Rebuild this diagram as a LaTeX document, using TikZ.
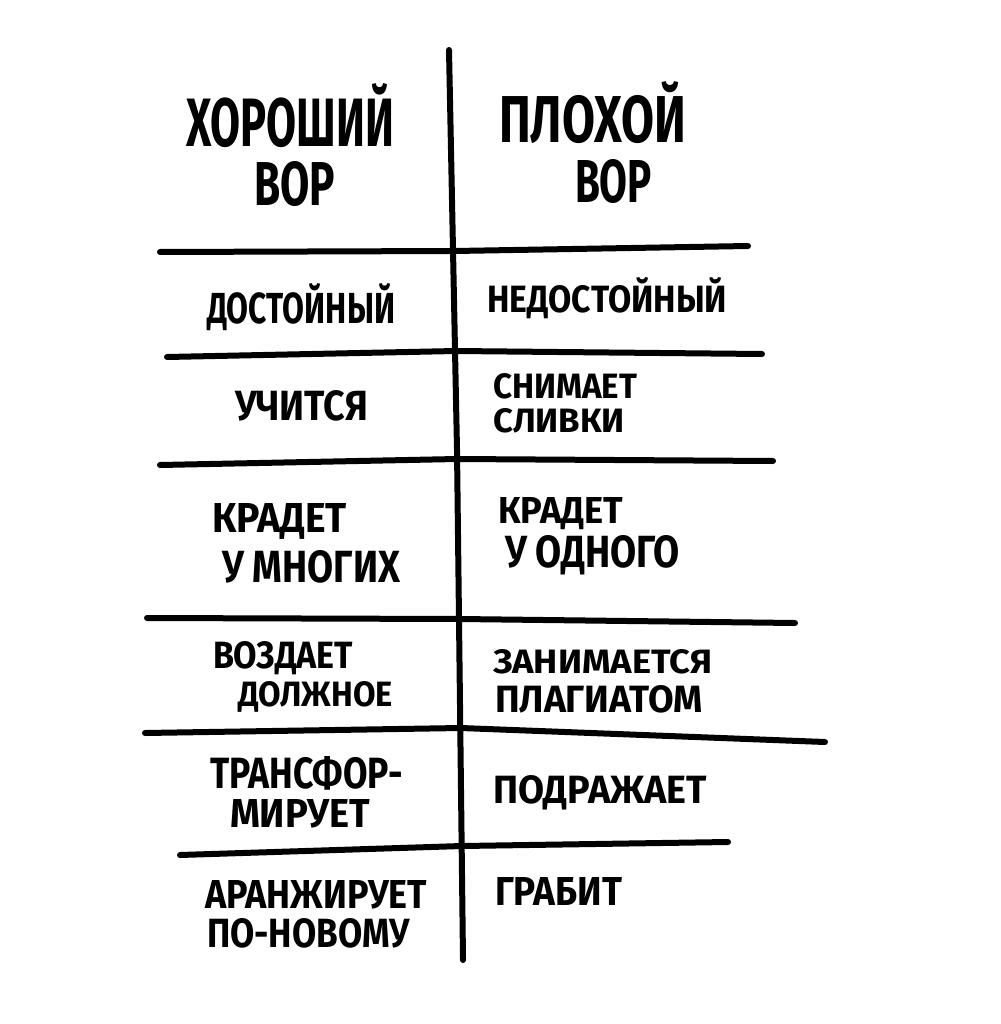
\documentclass[tikz,border=0pt]{standalone}
\usepackage{fontspec}
\setmainfont{Fira Sans}
\usepackage{graphicx}
\newcommand{\hw}[3]{\resizebox{#1pt}{#2pt}{\bfseries #3}}
\begin{document}
\begin{tikzpicture}[x=1pt,y=-1pt,
  rule/.style={line width=6pt,line cap=round,line join=round,black},
  txt/.style={inner sep=0pt,outer sep=0pt,anchor=base west}]
\useasboundingbox[fill=white] (0,0) rectangle (1000,1024);
% vertical rule
\coordinate (vt) at (449,50);
\coordinate (vm) at (457,450);
\coordinate (vb) at (463,960);
\draw[rule] (vt) -- (vm) -- (vb);
% horizontal rules
\coordinate (h1l) at (160,252); \coordinate (h1m) at (455,251); \coordinate (h1r) at (748,246);
\coordinate (h2l) at (167,357); \coordinate (h2m) at (456,351); \coordinate (h2r) at (762,354);
\coordinate (h3l) at (160,465); \coordinate (h3m) at (457,459); \coordinate (h3r) at (773,461);
\coordinate (h4l) at (147,618); \coordinate (h4m) at (460,619); \coordinate (h4r) at (795,623);
\coordinate (h5l) at (145,733); \coordinate (h5m) at (461,728); \coordinate (h5r) at (825,742);
\coordinate (h6l) at (180,855); \coordinate (h6m) at (462,846); \coordinate (h6r) at (728,842);
\foreach \i in {1,...,6}{\draw[rule] (h\i l) -- (h\i m) -- (h\i r);}
% texts
\node[txt] (l1a) at (186,147) {\hw{208}{63}{ХОРОШИЙ}};
\node[txt] (l1b) at (254,206) {\hw{81}{44}{ВОР}};
\node[txt] (r1a) at (499,143) {\hw{187}{61}{ПЛОХОЙ}};
\node[txt] (r1b) at (575,203) {\hw{77}{43}{ВОР}};
\node[txt] (l2) at (207,323) {\hw{188}{40}{ДОСТОЙНЫЙ}};
\node[txt] (r2) at (487,312) {\hw{240}{35}{НЕДОСТОЙНЫЙ}};
\node[txt] (l3) at (235,420) {\hw{133}{30}{УЧИТСЯ}};
\node[txt] (r3a) at (493,398) {\hw{144}{25}{СНИМАЕТ}};
\node[txt] (r3b) at (493,432) {\hw{132}{24}{СЛИВКИ}};
\node[txt] (l4a) at (212,532) {\hw{135}{29}{КРАДЕТ}};
\node[txt] (l4b) at (222,582) {\hw{178}{32}{У МНОГИХ}};
\node[txt] (r4a) at (498,523) {\hw{125}{26}{КРАДЕТ}};
\node[txt] (r4b) at (505,567) {\hw{175}{32}{У ОДНОГО}};
\node[txt] (l5a) at (213,668) {\hw{140}{27}{ВОЗДАЕТ}};
\node[txt] (l5b) at (238,706) {\hw{155}{25}{ДОЛЖНОЕ}};
\node[txt] (r5a) at (493,673) {\hw{219}{24}{ЗАНИМАЕТСЯ}};
\node[txt] (r5b) at (495,712) {\hw{208}{27}{ПЛАГИАТОМ}};
\node[txt] (l6a) at (210,788) {\hw{193}{32}{ТРАНСФОР-}};
\node[txt] (l6b) at (230,827) {\hw{140}{28}{МИРУЕТ}};
\node[txt] (r6) at (493,803) {\hw{214}{28}{ПОДРАЖАЕТ}};
\node[txt] (l7a) at (205,908) {\hw{222}{28}{АРАНЖИРУЕТ}};
\node[txt] (l7b) at (207,947) {\hw{203}{29}{ПО-НОВОМУ}};
\node[txt] (r7) at (495,905) {\hw{127}{28}{ГРАБИТ}};
\end{tikzpicture}
\end{document}
